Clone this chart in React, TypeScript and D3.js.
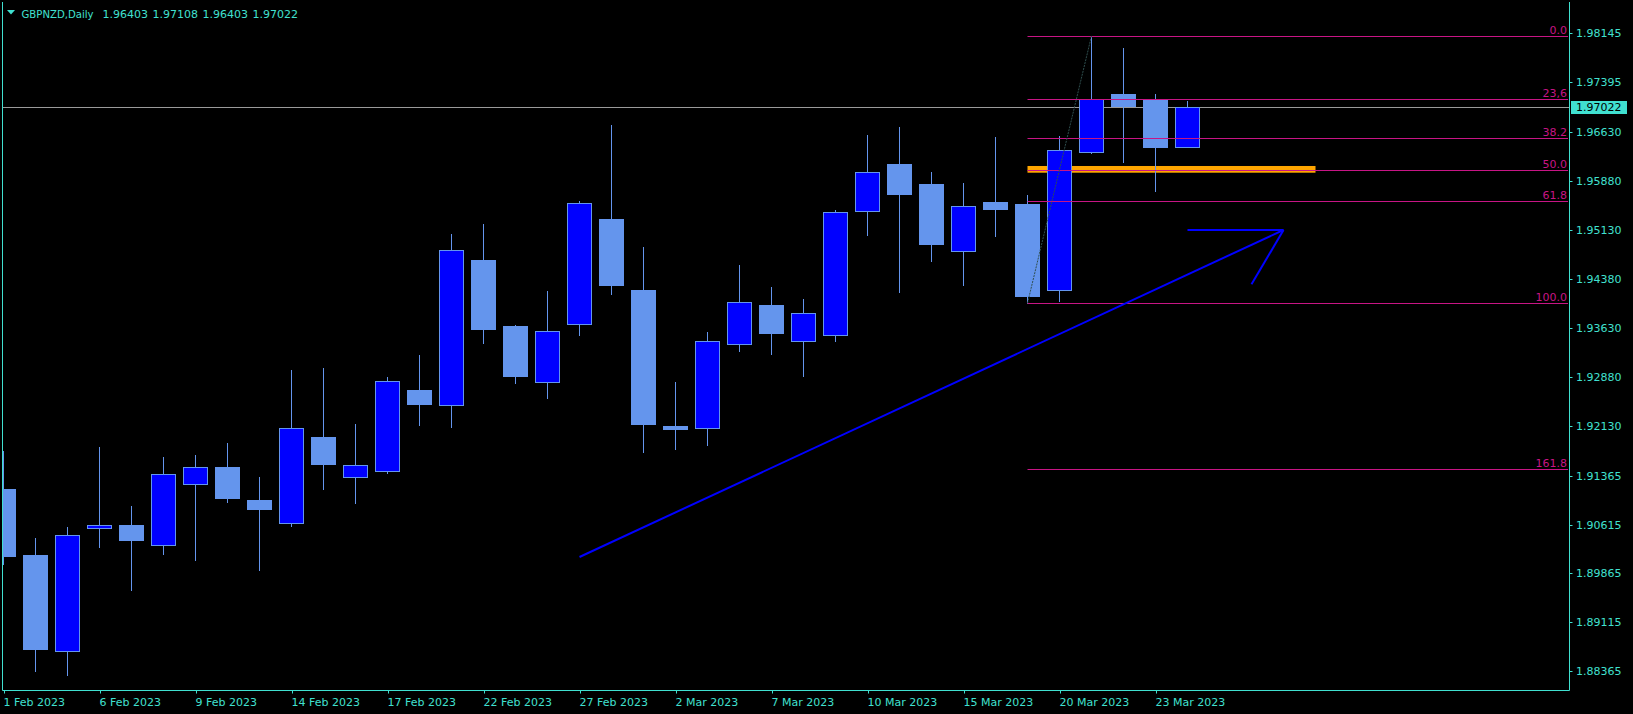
import React from "react";
import * as d3 from "d3";

const dates = ["1 Feb 2023","2 Feb 2023","3 Feb 2023","6 Feb 2023","7 Feb 2023","8 Feb 2023","9 Feb 2023","10 Feb 2023","13 Feb 2023","14 Feb 2023","15 Feb 2023","16 Feb 2023","17 Feb 2023","20 Feb 2023","21 Feb 2023","22 Feb 2023","23 Feb 2023","24 Feb 2023","27 Feb 2023","28 Feb 2023","1 Mar 2023","2 Mar 2023","3 Mar 2023","6 Mar 2023","7 Mar 2023","8 Mar 2023","9 Mar 2023","10 Mar 2023","13 Mar 2023","14 Mar 2023","15 Mar 2023","16 Mar 2023","17 Mar 2023","20 Mar 2023","21 Mar 2023","22 Mar 2023","23 Mar 2023","24 Mar 2023"];
const open = [1.91160,1.90148,1.88672,1.90557,1.90603,1.90297,1.91232,1.91497,1.90991,1.90634,1.91957,1.91339,1.91431,1.92677,1.92443,1.94670,1.93658,1.92804,1.93684,1.95298,1.94210,1.92125,1.92090,1.93378,1.93980,1.93424,1.93516,1.95416,1.96142,1.95835,1.94803,1.95559,1.95528,1.94205,1.96321,1.97215,1.97123,1.96403];
const high = [1.91742,1.90408,1.90577,1.91803,1.90899,1.91650,1.91681,1.91865,1.91344,1.92984,1.93014,1.92156,1.92876,1.93214,1.95068,1.95222,1.93674,1.94195,1.95574,1.96739,1.94869,1.92800,1.93566,1.94593,1.94256,1.94072,1.95436,1.96586,1.96709,1.96019,1.95850,1.96555,1.95666,1.96571,1.98104,1.97920,1.97215,1.97108];
const low = [1.90014,1.88374,1.88313,1.90275,1.89616,1.90168,1.90076,1.90965,1.89922,1.90597,1.91160,1.90945,1.91405,1.92145,1.92115,1.93402,1.92789,1.92559,1.93525,1.94153,1.91731,1.91777,1.91839,1.93280,1.93234,1.92896,1.93433,1.95058,1.94184,1.94659,1.94291,1.95042,1.94006,1.94046,1.96315,1.96177,1.95732,1.96403];
const close = [1.90137,1.88712,1.90450,1.90603,1.90382,1.91385,1.91492,1.91026,1.90858,1.92090,1.91547,1.91523,1.92811,1.92467,1.94819,1.93617,1.92896,1.93577,1.95539,1.94291,1.92161,1.92084,1.93428,1.94021,1.93555,1.93853,1.95401,1.96014,1.95686,1.94920,1.95493,1.95456,1.94123,1.96351,1.97133,1.97035,1.96407,1.97022];

const yTickLabels = ["1.98145","1.97395","1.96630","1.95880","1.95130","1.94380","1.93630","1.92880","1.92130","1.91365","1.90615","1.89865","1.89115","1.88365"];
const xTickIndices = [0,3,6,9,12,15,18,21,24,27,30,33,36];

const symbol = "GBPNZD,Daily";
const ohlcHeader = ["1.96403","1.97108","1.96403","1.97022"];

// Fibonacci retracement (17 Mar low -> 21 Mar high)
const fibStartIndex = 32;
const fibEndIndex = 34;
const fibLow = 1.94006;
const fibHigh = 1.98104;
const fibLevels = [0, 23.6, 38.2, 50, 61.8, 100, 161.8];
const fibLabels = ["0.0", "23,6", "38.2", "50.0", "61.8", "100.0", "161.8"];

// orange zone
const zoneStartIndex = 32;
const zoneEndIndex = 41;
const zoneTop = 1.96111;
const zoneBottom = 1.96008;

// blue trend arrow: [barIndex, price]
const trendLine: [number, number][] = [[18, 1.90117], [40, 1.95130]];
const arrowHeadA: [number, number][] = [[37, 1.95130], [40, 1.95130]];
const arrowHeadB: [number, number][] = [[40, 1.95130], [39, 1.94297]];

const W = 1633, H = 714;
const LEFT = 2.5, RIGHT = 1569.5, BOTTOM = 690.5, TOP = 2;
const CYAN = "#40E0D0";
const BULL = "#0000FF";
const BEAR = "#6495ED";
const FIB = "#C71585";
const FONT = "DejaVu Sans, Verdana, sans-serif";

export default function App() {
  const x = d3.scaleLinear().domain([0, 1]).range([3.5, 35.5]);
  const y = d3.scaleLinear().domain([1.88365, 1.98145]).range([671.3, 33.3]);
  const lastClose = close[close.length - 1];
  const line = d3.line<[number, number]>().x(d => x(d[0])).y(d => y(d[1]));
  const fibPrice = (lv: number) => fibHigh - (fibHigh - fibLow) * lv / 100;
  const yCur = Math.round(y(lastClose)) + 0.5;

  return (
    <div style={{ position: "absolute", left: 0, top: 0, width: W, height: H, background: "#000" }}>
      <svg width={W} height={H} style={{ display: "block", background: "#000" }} fontFamily={FONT}>
        <defs>
          <clipPath id="plot">
            <rect x={3} y={TOP} width={RIGHT - 3.5} height={BOTTOM - TOP} />
          </clipPath>
        </defs>
        <rect x={0} y={0} width={W} height={H} fill="#000" />

        <g clipPath="url(#plot)">
          {/* current price line */}
          <line x1={LEFT} x2={RIGHT} y1={yCur} y2={yCur} stroke="#9a9a9a" strokeWidth={1} />

          {/* orange zone */}
          <rect x={x(zoneStartIndex)} width={x(zoneEndIndex) - x(zoneStartIndex)}
            y={y(zoneTop)} height={y(zoneBottom) - y(zoneTop)} fill="#FFA500" />

          {/* candles */}
          {dates.map((d, i) => {
            const cx = x(i);
            const bull = close[i] >= open[i];
            const yt = Math.round(y(Math.max(open[i], close[i])));
            const yb = Math.round(y(Math.min(open[i], close[i])));
            const yh = Math.round(y(high[i]));
            const yl = Math.round(y(low[i]));
            return (
              <g key={d}>
                <line x1={cx} x2={cx} y1={yh} y2={yl + 1} stroke={BEAR} strokeWidth={1} />
                {bull ? (
                  <rect x={cx - 12} y={yt + 0.5} width={24} height={Math.max(1, yb - yt)}
                    fill={BULL} stroke={BEAR} strokeWidth={1} />
                ) : (
                  <rect x={cx - 12.5} y={yt} width={25} height={Math.max(2, yb - yt + 1)} fill={BEAR} />
                )}
              </g>
            );
          })}

          {/* fib lines */}
          {fibLevels.map((lv, k) => {
            const yy = Math.round(y(fibPrice(lv))) + 0.5;
            return (
              <g key={lv}>
                <line x1={x(fibStartIndex)} x2={1568} y1={yy} y2={yy} stroke={FIB} strokeWidth={1} />
                <text x={1567} y={yy - 3} textAnchor="end" fontSize={11} fill={FIB}>{fibLabels[k]}</text>
              </g>
            );
          })}

          {/* fib diagonal */}
          <line x1={x(fibStartIndex)} y1={y(fibLow)} x2={x(fibEndIndex)} y2={y(fibHigh)}
            stroke="#2F4F4F" strokeWidth={1} strokeDasharray="2,1" />

          {/* blue trend arrow */}
          <path d={line(trendLine) || ""} fill="none" stroke={BULL} strokeWidth={2} />
          <path d={line(arrowHeadA) || ""} fill="none" stroke={BULL} strokeWidth={2} />
          <path d={line(arrowHeadB) || ""} fill="none" stroke={BULL} strokeWidth={2} />
        </g>

        {/* frame */}
        <line x1={LEFT} x2={LEFT} y1={TOP} y2={BOTTOM} stroke={CYAN} strokeWidth={1} />
        <line x1={RIGHT} x2={RIGHT} y1={TOP} y2={BOTTOM} stroke={CYAN} strokeWidth={1} />
        <line x1={LEFT} x2={RIGHT} y1={BOTTOM} y2={BOTTOM} stroke={CYAN} strokeWidth={1} />

        {/* y axis */}
        {yTickLabels.map(t => {
          const yy = Math.round(y(parseFloat(t))) + 0.5;
          return (
            <g key={t}>
              <line x1={RIGHT} x2={RIGHT + 3} y1={yy} y2={yy} stroke={CYAN} strokeWidth={1} />
              <text x={1576} y={yy} dy="0.36em" fontSize={11} fill={CYAN}>{t}</text>
            </g>
          );
        })}
        {/* current price box */}
        <rect x={1571} y={yCur - 6.5} width={56} height={13} fill={CYAN} />
        <text x={1576} y={yCur} dy="0.36em" fontSize={11} fill="#000">{lastClose.toFixed(5)}</text>

        {/* x axis */}
        {xTickIndices.map(i => {
          const xx = Math.round(x(i)) + 0.5;
          return (
            <g key={i}>
              <line x1={xx} x2={xx} y1={BOTTOM} y2={BOTTOM + 3} stroke={CYAN} strokeWidth={1} />
              <text x={xx - 1} y={706} fontSize={11} fill={CYAN}>{dates[i]}</text>
            </g>
          );
        })}

        {/* header */}
        <path d="M7,10 L15,10 L11,14.5 Z" fill={CYAN} />
        <text x={21.5} y={17.5} fontSize={11} fill={CYAN} textLength={72} lengthAdjust="spacingAndGlyphs">{symbol}</text>
        {ohlcHeader.map((v, k) => (
          <text key={k} x={102.5 + 50 * k} y={17.5} fontSize={11} fill={CYAN}>{v}</text>
        ))}
      </svg>
    </div>
  );
}
